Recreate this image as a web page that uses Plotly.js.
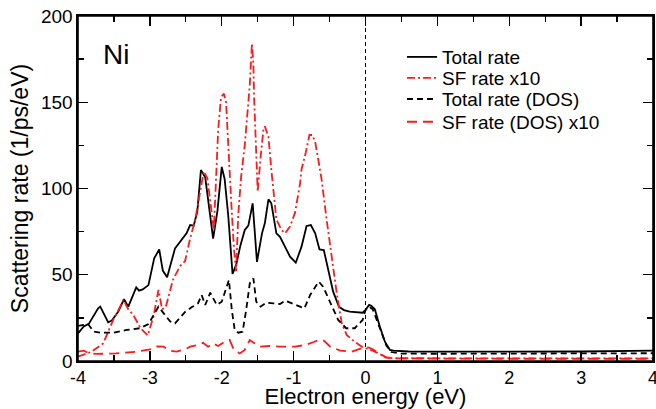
<!DOCTYPE html>
<html>
<head>
<meta charset="utf-8">
<script src="https://cdn.plot.ly/plotly-3.0.1.min.js"></script>
<style>html,body{margin:0;padding:0;background:#fff;}#chart{width:656px;height:409px;}</style>
</head>
<body>
<div id="chart"></div>
<script>
// Total rate (black solid)
const totalE = [-4.00,-3.92,-3.85,-3.72,-3.69,-3.58,-3.53,-3.44,-3.36,-3.30,-3.19,-3.15,-3.10,-3.02,-2.94,-2.87,-2.82,-2.76,-2.65,-2.56,-2.49,-2.44,-2.39,-2.34,-2.29,-2.23,-2.18,-2.12,-2.06,-2.00,-1.96,-1.91,-1.85,-1.80,-1.74,-1.68,-1.63,-1.57,-1.51,-1.44,-1.40,-1.35,-1.31,-1.24,-1.19,-1.12,-1.05,-0.97,-0.89,-0.82,-0.76,-0.70,-0.64,-0.58,-0.51,-0.45,-0.37,-0.30,-0.22,-0.04,0.00,0.05,0.08,0.13,0.20,0.27,0.34,0.39,0.60,1.00,2.00,3.00,3.60,4.00];
const totalRate = [16,20,21.5,30.5,31.5,22.4,23.4,28.6,35.8,31.5,42.7,40.8,41.5,44,59.5,64.7,52.4,48.5,65.3,70.1,74,78.8,78.5,86.6,110.7,106.5,91,71,87,112.5,105.5,84.5,50.5,55.7,67,76,78.5,91.4,57.5,74,80,93.7,91.4,74,72,66.3,60.5,57,66.3,78.3,78.8,74,64.7,64.3,50.8,40.2,31.5,29.5,28.6,28,29.6,32.5,32,30,19.9,11.2,6.4,6,5.5,5.4,5.4,5.5,5.6,6];

// SF rate x10 (red dash-dot)
const sfE = [-4.00,-3.81,-3.65,-3.51,-3.42,-3.37,-3.30,-3.23,-3.13,-3.03,-2.95,-2.88,-2.83,-2.78,-2.68,-2.58,-2.51,-2.44,-2.37,-2.30,-2.25,-2.20,-2.14,-2.11,-2.07,-2.05,-2.01,-1.97,-1.94,-1.91,-1.86,-1.83,-1.80,-1.77,-1.73,-1.68,-1.64,-1.61,-1.58,-1.56,-1.55,-1.53,-1.51,-1.50,-1.46,-1.42,-1.40,-1.35,-1.31,-1.27,-1.24,-1.17,-1.12,-1.05,-0.98,-0.91,-0.89,-0.83,-0.78,-0.74,-0.70,-0.67,-0.61,-0.54,-0.47,-0.40,-0.33,-0.26,-0.15,-0.05,0.00,0.10,0.20,0.27,0.40,1.00,2.00,3.00,4.00];
const sfRate = [2.5,5.4,10.2,23.8,31,35.5,30,26.7,19,14.8,25.7,41.2,30,31,47,55,58,71,81.7,99,110,106,86,76,114.6,134,153,155,150,124,86,65,52,85,107,125,145,160,184,172,153,128,105,98,118,134,136,130,111,95,82,76,74,78,86,103,111,121,131,131,127,120,105,81.7,60.5,39.2,21.8,15,11.2,8.3,7.4,6,4,2.1,1.6,1.5,1.5,1.5,1.5];

// Total rate (DOS) (black dashed)
const dosE = [-4.00,-3.86,-3.78,-3.69,-3.51,-3.32,-3.14,-3.02,-2.88,-2.81,-2.72,-2.65,-2.51,-2.42,-2.33,-2.28,-2.23,-2.16,-2.07,-2.00,-1.94,-1.90,-1.86,-1.82,-1.77,-1.71,-1.66,-1.61,-1.56,-1.52,-1.46,-1.38,-1.28,-1.19,-1.12,-0.98,-0.85,-0.77,-0.65,-0.59,-0.49,-0.38,-0.27,-0.15,-0.04,0.00,0.05,0.10,0.20,0.29,0.36,0.50,1.00,2.00,3.00,4.00];
const dosRate = [20.3,21.4,17,16.4,16.4,18,19,21.4,31.5,27.6,23,21.8,28.5,31.1,33.4,38.3,32.5,39.6,32.5,34.4,42.1,47,29.6,18,16.4,17,29.6,45,47.9,34.4,31.5,33.8,33.4,33,35,32.5,30.5,38.3,46,43.1,33.4,23.8,19,19,23.8,29.5,31.5,30,19,9,5.2,4.3,4.2,4.2,4.3,4.5];

// SF rate (DOS) x10 (red long dash)
const sfDosE = [-4.00,-3.92,-3.85,-3.75,-3.47,-3.19,-3.00,-2.90,-2.81,-2.72,-2.63,-2.50,-2.44,-2.33,-2.26,-2.19,-2.12,-2.05,-1.96,-1.89,-1.83,-1.75,-1.68,-1.61,-1.54,-1.47,-1.33,-1.19,-0.98,-0.84,-0.72,-0.65,-0.58,-0.49,-0.35,-0.19,-0.05,0.00,0.05,0.10,0.20,0.29,0.40,1.00,2.00,3.00,4.00];
const sfDosRate = [5.4,6,4.5,4.1,4.4,5.4,6.8,8.5,8.3,6,5.4,7,8.3,9.3,10.6,8.3,10.2,8.7,11.2,12.2,6.4,4.4,6.4,12.2,10.2,8.3,8.7,8.3,8.3,9.3,11,12.2,11.8,8.3,6,5.4,7.4,8,7.7,6.8,4.1,2.1,1.5,1.3,1.3,1.3,1.3];

// Fermi level marker
const fermiE = [0, 0];
const fermiY = [0, 200];

const seriesNames = ["Total rate", "SF rate x10", "Total rate (DOS)", "SF rate (DOS) x10"];
const xTickVals = [-4, -3, -2, -1, 0, 1, 2, 3, 4];
const xTickText = ["-4", "-3", "-2", "-1", "0", "1", "2", "3", "4"];
const yTickVals = [0, 50, 100, 150, 200];
const yTickText = ["0", "50", "100", "150", "200"];
const xTitle = "Electron energy (eV)";
const yTitle = "Scattering rate (1/ps/eV)";
const label = "Ni";

const FONT = "Liberation Sans, Arial, Helvetica, sans-serif";
const RED = "#ff1a1a";

const traces = [
  {x: fermiE, y: fermiY, mode: "lines", line: {color: "#000", width: 1, dash: "4px,3px"}, showlegend: false, hoverinfo: "skip"},
  {x: totalE, y: totalRate, name: seriesNames[0], legend: "legend", mode: "lines", line: {color: "#000", width: 1.8}},
  {x: sfE, y: sfRate, name: seriesNames[1], legend: "legend2", mode: "lines", line: {color: RED, width: 1.8, dash: "8px,3px,2px,3px"}},
  {x: dosE, y: dosRate, name: seriesNames[2], legend: "legend3", mode: "lines", line: {color: "#000", width: 1.8, dash: "6px,4px"}},
  {x: sfDosE, y: sfDosRate, name: seriesNames[3], legend: "legend4", mode: "lines", line: {color: RED, width: 1.8, dash: "10px,6px"}}
];

function leg(yc) {
  return {x: 0.5635, y: yc, xanchor: "left", yanchor: "middle", bgcolor: "rgba(0,0,0,0)", borderwidth: 0,
          font: {family: FONT, size: 19, color: "#000"}, itemwidth: 30};
}

const layout = {
  width: 656, height: 409,
  margin: {l: 78, r: 3, t: 16, b: 48},
  paper_bgcolor: "#fff", plot_bgcolor: "#fff",
  font: {family: FONT, color: "#000", size: 19},
  showlegend: true,
  legend: leg(0.881),
  legend2: leg(0.820),
  legend3: leg(0.759),
  legend4: leg(0.693),
  xaxis: {
    range: [-4, 4], tickmode: "array", tickvals: xTickVals, ticktext: xTickText,
    ticks: "inside", ticklen: 10, tickwidth: 1.3, tickcolor: "#000",
    showline: true, linecolor: "#000", linewidth: 1.6, showgrid: false, zeroline: false, mirror: "ticks",
    tickfont: {family: FONT, size: 18}, ticklabeloverflow: "allow",
    minor: {dtick: 0.5, ticks: "inside", ticklen: 6, tickwidth: 1.3, tickcolor: "#000", showgrid: false},
    title: {text: xTitle, font: {family: FONT, size: 22}, standoff: 9}
  },
  yaxis: {
    range: [0, 200], tickmode: "array", tickvals: yTickVals, ticktext: yTickText,
    ticks: "inside", ticklen: 10, tickwidth: 1.3, tickcolor: "#000",
    showline: true, linecolor: "#000", linewidth: 1.6, showgrid: false, zeroline: false, mirror: "ticks",
    tickfont: {family: FONT, size: 19},
    minor: {dtick: 25, ticks: "inside", ticklen: 6, tickwidth: 1.3, tickcolor: "#000", showgrid: false},
    title: {text: yTitle, font: {family: FONT, size: 23}, standoff: 6}
  },
  shapes: [
    {type: "rect", xref: "paper", yref: "paper", x0: 0, x1: 1, y0: 0, y1: 1, line: {color: "#000", width: 1.6}, fillcolor: "rgba(0,0,0,0)", layer: "above"}
  ],
  annotations: [
    {text: label, xref: "paper", yref: "paper", x: 0.04, y: 0.94, xanchor: "left", yanchor: "top", showarrow: false, font: {family: FONT, size: 28, color: "#000"}}
  ]
};

Plotly.newPlot("chart", traces, layout, {displayModeBar: false, staticPlot: true});
</script>
</body>
</html>
